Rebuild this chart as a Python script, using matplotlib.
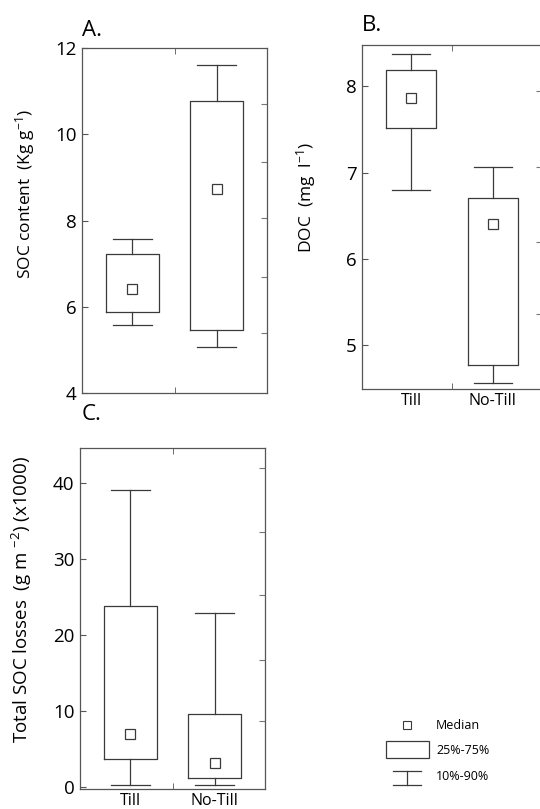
import matplotlib
matplotlib.use("Agg")
import matplotlib.pyplot as plt
from matplotlib.lines import Line2D
from matplotlib.patches import Rectangle
from matplotlib.legend_handler import HandlerBase

plt.rcParams['font.family'] = ['Open Sans', 'DejaVu Sans']
plt.rcParams['mathtext.fontset'] = 'custom'
plt.rcParams['mathtext.rm'] = 'Open Sans'
plt.rcParams['mathtext.it'] = 'Open Sans'

categories = ["Till", "No-Till"]

# Panel A: SOC content
soc_p10 = [5.57, 5.06]
soc_q1 = [5.87, 5.46]
soc_med = [6.42, 8.73]
soc_q3 = [7.22, 10.77]
soc_p90 = [7.57, 11.60]

# Panel B: DOC
doc_p10 = [6.80, 4.56]
doc_q1 = [7.52, 4.77]
doc_med = [7.86, 6.40]
doc_q3 = [8.19, 6.71]
doc_p90 = [8.38, 7.06]

# Panel C: Total SOC losses (x1000)
loss_p10 = [0.3, 0.3]
loss_q1 = [3.7, 1.2]
loss_med = [7.0, 3.2]
loss_q3 = [23.8, 9.6]
loss_p90 = [39.1, 22.9]

yticks_A = [4, 6, 8, 10, 12]
yticks_B = [5, 6, 7, 8]
yticks_C = [0, 10, 20, 30, 40]
rticks_A = [5.4, 6.7, 8.05, 9.35, 10.7]
rticks_B = [5.36, 6.2, 7.07, 7.95]
rticks_C = [8.7, 16.8, 25.3, 33.6, 42.0]

LC = '#3a3a3a'
LW = 0.9

fig = plt.figure(figsize=(5.40, 8.09), dpi=100)
W, H = 540, 809

def axes_px(l, t, r, b):
    return fig.add_axes([l / W, 1 - b / H, (r - l) / W, (b - t) / H])

axA = axes_px(82, 48, 267, 393)
axB = axes_px(362, 45, 542, 389)
axC = axes_px(80, 448, 265, 789)

positions = [1, 2]

def draw(ax, p10, q1, med, q3, p90):
    stats = []
    for i in range(len(categories)):
        stats.append(dict(whislo=p10[i], q1=q1[i], med=med[i], q3=q3[i],
                          whishi=p90[i], fliers=[], label=categories[i]))
    ax.bxp(stats, positions=positions, widths=0.62, capwidths=0.46,
           showfliers=False,
           boxprops=dict(color=LC, linewidth=LW),
           whiskerprops=dict(color=LC, linewidth=LW),
           capprops=dict(color=LC, linewidth=LW),
           medianprops=dict(linewidth=0))
    ax.plot(positions, med, 's', ls='none', mfc='white', mec=LC, ms=7, mew=0.9)
    ax.set_xlim(0.4, 2.6)
    for s in ax.spines.values():
        s.set_color('#555555')
        s.set_linewidth(0.9)

draw(axA, soc_p10, soc_q1, soc_med, soc_q3, soc_p90)
draw(axB, doc_p10, doc_q1, doc_med, doc_q3, doc_p90)
draw(axC, loss_p10, loss_q1, loss_med, loss_q3, loss_p90)

axA.set_ylim(4, 12)
axB.set_ylim(4.49, 8.48)
axC.set_ylim(-0.2, 44.6)

for ax, yt, rt in [(axA, yticks_A, rticks_A), (axB, yticks_B, rticks_B), (axC, yticks_C, rticks_C)]:
    ax.set_yticks(yt)
    ax.set_yticklabels([str(v) for v in yt])
    ax.tick_params(axis='y', direction='in', length=4, color='#555555',
                   labelsize=13.5, pad=4)
    ax.set_xticks(positions)
    ax.set_xticks([1.5], minor=True)
    ax.tick_params(axis='x', which='major', length=0, labelsize=11.5, pad=3)
    ax.tick_params(axis='x', which='minor', direction='in', length=4,
                   top=True, bottom=True, color='#555555')
    sec = ax.secondary_yaxis('right')
    sec.set_yticks(rt)
    sec.set_yticklabels([])
    sec.tick_params(direction='in', length=4, color='#777777')
    sec.spines['right'].set_visible(False)

axA.set_xticklabels(['', ''])
axB.set_xticklabels(categories)
axC.set_xticklabels(categories)

axA.set_ylabel('SOC content  (Kg g$^{-1}$)', fontsize=12.5)
axA.yaxis.set_label_coords(-0.245, 0.577)
axB.set_ylabel('DOC  (mg  l$^{-1}$)', fontsize=12.5)
axB.yaxis.set_label_coords(-0.246, 0.558)
axC.set_ylabel('Total SOC losses  (g m $^{-2}$) (x1000)', fontsize=13.5)
axC.yaxis.set_label_coords(-0.25, 0.557)

axA.text(0.0, 1.052, 'A.', transform=axA.transAxes, fontsize=16, va='center', ha='left')
axB.text(0.0, 1.058, 'B.', transform=axB.transAxes, fontsize=16, va='center', ha='left')
axC.text(0.01, 1.097, 'C.', transform=axC.transAxes, fontsize=16, va='center', ha='left')


class WhiskerHandle:
    pass


class WhiskerHandler(HandlerBase):
    def create_artists(self, legend, orig_handle, xdescent, ydescent,
                       width, height, fontsize, trans):
        cx = width / 2 - xdescent
        half = width * 0.33
        top = height * 1.05 - ydescent
        bot = -height * 0.6 - ydescent
        l1 = Line2D([cx - half, cx + half], [top, top], color=LC, lw=LW, transform=trans)
        l2 = Line2D([cx, cx], [top, bot], color=LC, lw=LW, transform=trans)
        l3 = Line2D([cx - half, cx + half], [bot, bot], color=LC, lw=LW, transform=trans)
        return [l1, l2, l3]


class BoxHandler(HandlerBase):
    def create_artists(self, legend, orig_handle, xdescent, ydescent,
                       width, height, fontsize, trans):
        r = Rectangle((-xdescent, -ydescent - height * 0.45), width, height * 1.95,
                      facecolor='white', edgecolor=LC, lw=LW, transform=trans)
        return [r]


med_h = Line2D([], [], marker='s', ls='none', mfc='white', mec=LC, ms=5.5, mew=0.8)
box_h = Rectangle((0, 0), 1, 1)
wh_h = WhiskerHandle()

fig.legend([med_h, box_h, wh_h], ['Median', '25%-75%', '10%-90%'],
           handler_map={WhiskerHandle: WhiskerHandler(), Rectangle: BoxHandler()},
           loc='upper left', bbox_to_anchor=(386 / W, 1 - 719 / H),
           frameon=False, fontsize=9, handlelength=3.4, handletextpad=0.6,
           labelspacing=1.0, borderpad=0, borderaxespad=0)

fig.savefig('out.png', dpi=100)
